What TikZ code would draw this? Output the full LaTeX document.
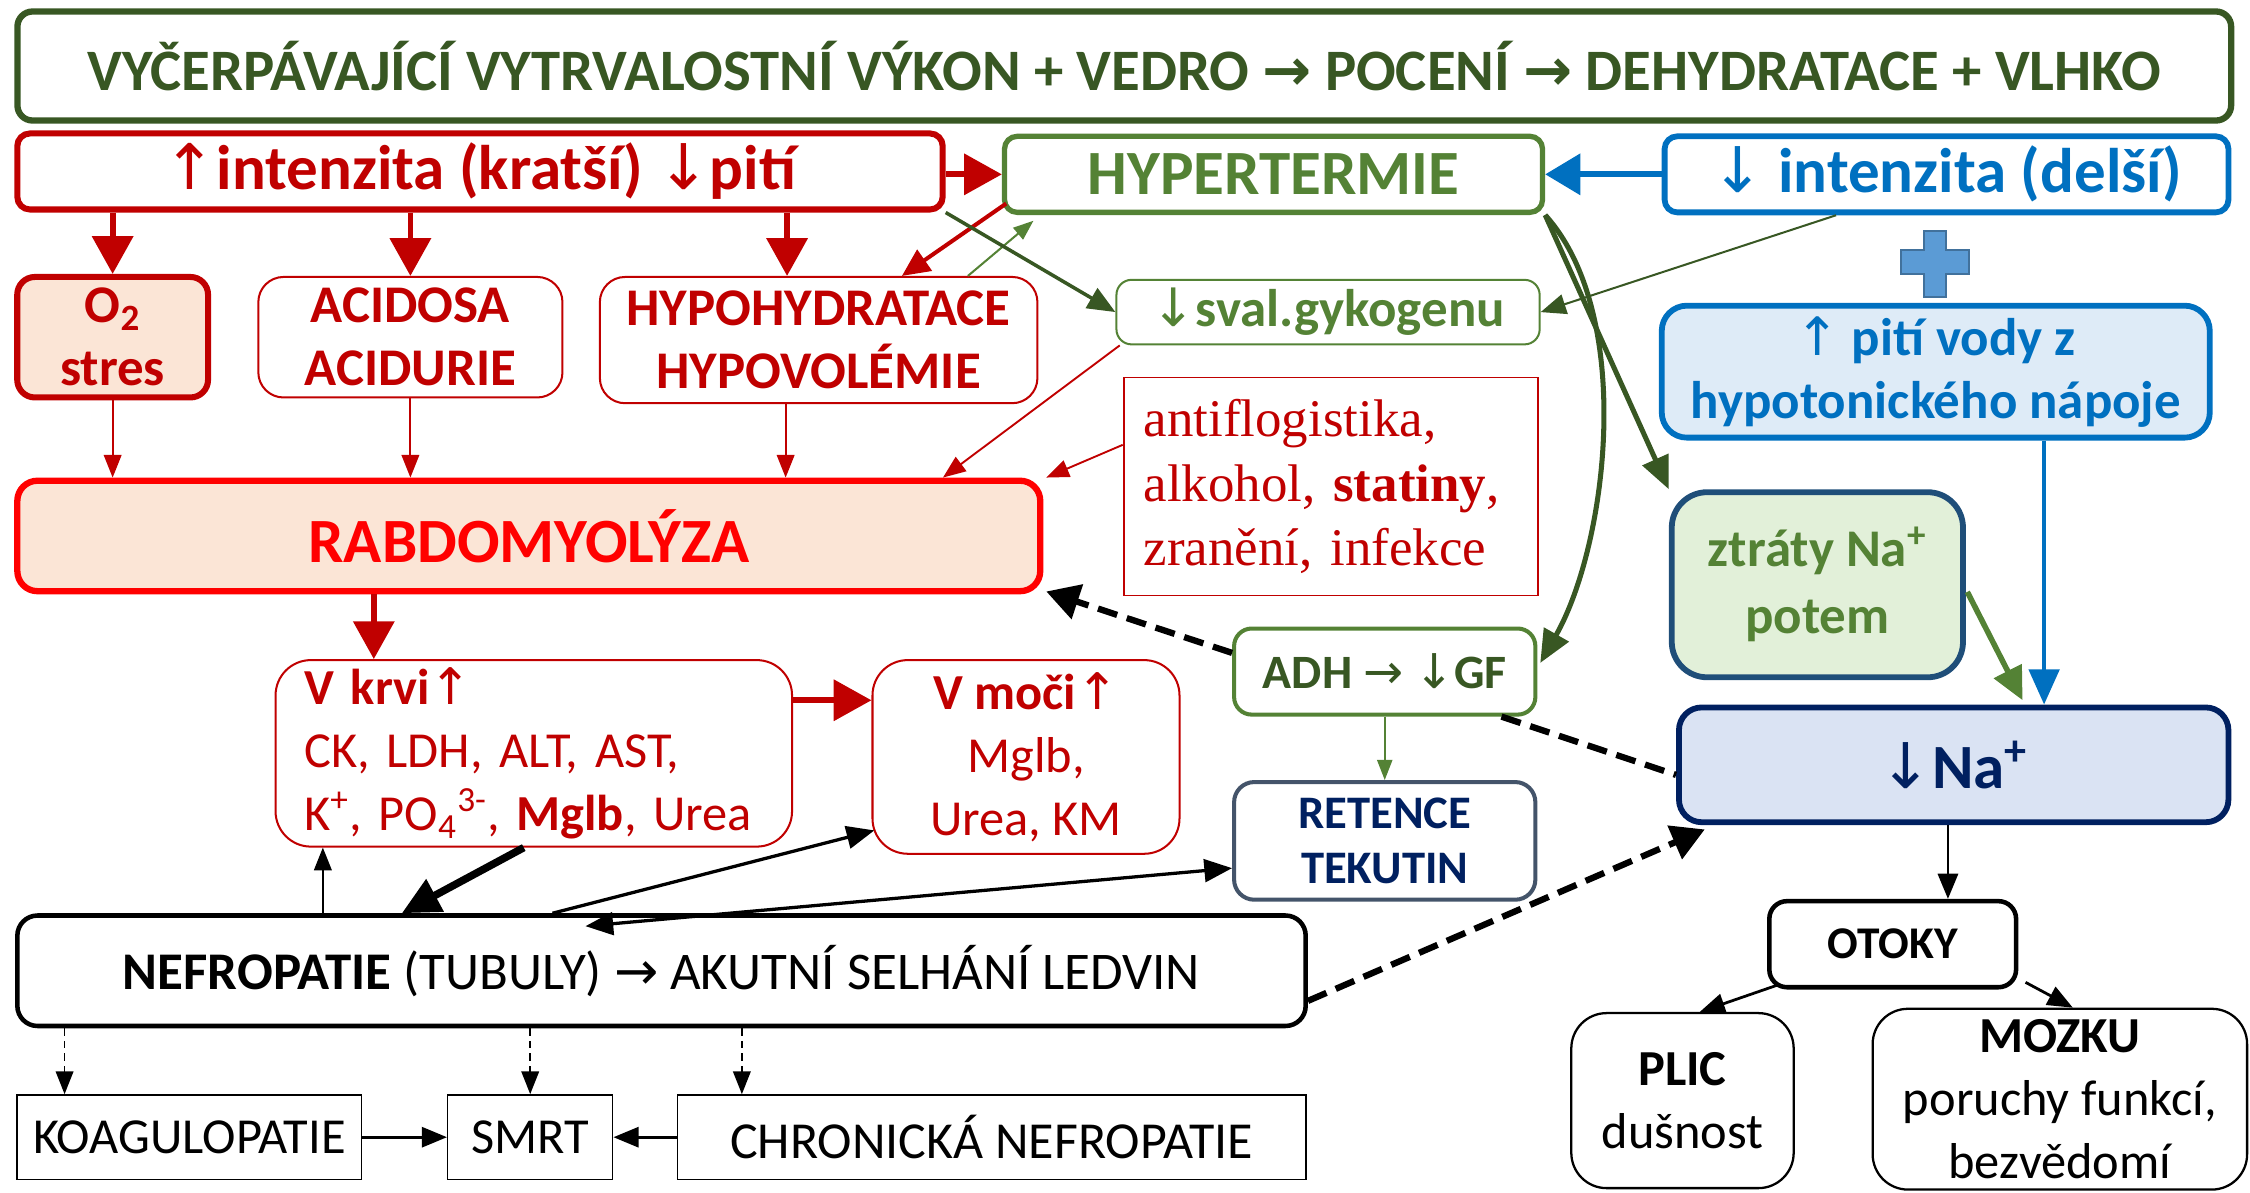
\documentclass[tikz,border=0pt]{standalone}
\usepackage{fontspec}
\setmainfont{Carlito}
\newfontfamily\serfont{Liberation Serif}
\newfontfamily\arrfont{DejaVu Sans}
\usetikzlibrary{arrows.meta,calc}

\definecolor{dgreen}{HTML}{385723}
\definecolor{mgreen}{HTML}{548235}
\definecolor{dred}{HTML}{C00000}
\definecolor{bred}{HTML}{FF0000}
\definecolor{peach}{HTML}{FBE5D6}
\definecolor{mblue}{HTML}{0070C0}
\definecolor{pblue}{HTML}{DEEBF7}
\definecolor{plusblue}{HTML}{5B9BD5}
\definecolor{plusedge}{HTML}{41719C}
\definecolor{pgreen}{HTML}{E2F0D9}
\definecolor{steel}{HTML}{1F4E79}
\definecolor{navy}{HTML}{002060}
\definecolor{lav}{HTML}{DAE3F3}
\definecolor{slate}{HTML}{44546A}

\newcommand{\arup}{{\arrfont\mdseries ↑}}
\newcommand{\ardn}{{\arrfont\mdseries ↓}}
\newcommand{\arri}{{\arrfont\mdseries →}}

\begin{document}
\begin{tikzpicture}[x=0.02cm, y=-0.02cm,
    rbox/.style={draw, rounded corners=7pt, align=center, inner sep=0pt},
    sbox/.style={draw, align=center, inner sep=0pt},
    big/.style={font=\fontsize{25}{29}\selectfont\bfseries},
    mid/.style={font=\fontsize{21}{25}\selectfont\bfseries},
    plain/.style={font=\fontsize{20}{25}\selectfont},
    redfat/.style={dred, line width=2.3pt, -{Triangle[length=15pt,width=16pt]}},
    redmid/.style={dred, line width=1.6pt, -{Triangle[length=11pt,width=10pt]}},
    redthin/.style={dred, line width=0.75pt, -{Triangle[length=9pt,width=7pt]}},
    grnthin/.style={mgreen, line width=0.8pt, -{Triangle[length=8pt,width=6pt]}},
    grnmid/.style={mgreen, line width=2.2pt, -{Triangle[length=13pt,width=12pt]}},
    dgrnthin/.style={dgreen, line width=0.8pt, -{Triangle[length=10pt,width=8pt]}},
    dgrnmid/.style={dgreen, line width=1.4pt, -{Triangle[length=11pt,width=9pt]}},
    dgrnfat/.style={dgreen, line width=2pt, -{Triangle[length=13pt,width=11pt]}},
    bluefat/.style={mblue, line width=2.5pt, -{Triangle[length=14pt,width=16pt]}},
    bluemid/.style={mblue, line width=1.8pt, -{Triangle[length=14pt,width=12pt]}},
    blk/.style={black, line width=1.1pt, -{Triangle[length=10pt,width=8pt]}},
    blkthin/.style={black, line width=0.7pt, -{Triangle[length=9pt,width=7pt]}},
    blkmid/.style={black, line width=1.3pt, -{Triangle[length=11pt,width=9pt]}},
    blkfat/.style={black, line width=3pt, -{Triangle[length=15pt,width=14pt]}},
    dashfat/.style={black, line width=2.5pt, dash pattern=on 8pt off 4pt, -{Triangle[length=13pt,width=14pt]}},
    dashline/.style={black, line width=2.5pt, dash pattern=on 8pt off 4pt},
    dashthin/.style={black, line width=0.6pt, dash pattern=on 3pt off 2pt, -{Triangle[length=9pt,width=7pt]}}]
  \useasboundingbox (0,0) rectangle (1568,831);

  % top row
  \node[rbox, draw=dgreen, line width=2.5pt, rounded corners=6pt, minimum width=30.86cm, minimum height=1.52cm,
        text=dgreen, font=\fontsize{23.3}{27}\selectfont\bfseries] (top) at (783.5,46)
        {VYČERPÁVAJÍCÍ VYTRVALOSTNÍ VÝKON + VEDRO {\arrfont →} POCENÍ {\arrfont →} DEHYDRATACE + VLHKO};
  \node[rbox, big, draw=dred, line width=2.4pt, rounded corners=5pt, minimum width=12.9cm, minimum height=1.06cm, text=dred]
        (kratsi) at (334.5,119.5) {\arup{}intenzita (kratší) \ardn{}pití};
  \node[rbox, big, draw=mgreen, line width=2.1pt, rounded corners=5pt, minimum width=7.5cm, minimum height=1.06cm, text=mgreen]
        (hyper) at (887.5,121.5) {HYPERTERMIE};
  \node[rbox, big, draw=mblue, line width=2.3pt, rounded corners=5pt, minimum width=7.86cm, minimum height=1.06cm, text=mblue]
        (delsi) at (1356.5,121.5) {\ardn{} intenzita (delší)};

  % second row
  \node[rbox, mid, draw=dred, fill=peach, line width=2.4pt, minimum width=2.66cm, minimum height=1.68cm, text=dred]
        (o2) at (78.5,235) {O\textsubscript{2}\\stres};
  \node[rbox, mid, draw=dred, line width=0.8pt, rounded corners=10pt, minimum width=4.24cm, minimum height=1.68cm, text=dred]
        (acid) at (286,235) {ACIDOSA\\ACIDURIE};
  \node[rbox, mid, draw=dred, line width=0.8pt, rounded corners=10pt, minimum width=6.1cm, minimum height=1.76cm, text=dred]
        (hypo) at (570.5,237) {HYPOHYDRATACE\\HYPOVOLÉMIE};
  \node[rbox, mid, draw=mgreen, line width=0.8pt, rounded corners=6pt, minimum width=5.9cm, minimum height=0.9cm, text=mgreen]
        (sval) at (925.5,217.5) {\ardn{}sval.gykogenu};
  \node[sbox, draw=dred, line width=0.7pt, minimum width=5.78cm, minimum height=3.04cm, text width=5.22cm, align=left,
        text=dred, font=\serfont\fontsize{21}{25.5}\selectfont] (anti) at (927.5,339)
        {antiflogistika,\\alkohol, \textbf{statiny},\\zranění, infekce};
  \node[rbox, mid, draw=mblue, fill=pblue, line width=2.3pt, rounded corners=10pt, minimum width=7.64cm, minimum height=1.84cm,
        text=mblue] (piti) at (1349,259) {\arup{} pití vody z\\hypotonického nápoje};
  \filldraw[fill=plusblue, draw=plusedge, line width=0.8pt]
    (1341,161) -- (1356,161) -- (1356,174) -- (1372,174) -- (1372,191) -- (1356,191) -- (1356,207)
    -- (1341,207) -- (1341,191) -- (1325,191) -- (1325,174) -- (1341,174) -- cycle;

  % middle
  \node[rbox, big, draw=bred, fill=peach, line width=2.5pt, rounded corners=8pt, minimum width=14.26cm, minimum height=1.54cm,
        text=bred] (rabdo) at (368.5,373.5) {RABDOMYOLÝZA};
  \node[rbox, mid, draw=steel, fill=pgreen, line width=2.3pt, rounded corners=14pt, minimum width=4.06cm, minimum height=2.58cm,
        text=mgreen, font=\fontsize{21}{26.5}\selectfont\bfseries] (ztraty) at (1266.5,407.5) {ztráty Na\textsuperscript{+}\\potem};
  \node[rbox, draw=mgreen, line width=1.6pt, minimum width=4.2cm, minimum height=1.2cm, text=dgreen,
        font=\fontsize{19}{22}\selectfont\bfseries] (adh) at (965,468) {ADH \arri{} \ardn{}GF};
  \node[rbox, big, draw=navy, fill=lav, line width=2.3pt, rounded corners=9pt, minimum width=7.66cm, minimum height=1.6cm,
        text=navy] (na) at (1361.5,533) {\ardn{}Na\textsuperscript{+}};
  \node[rbox, plain, draw=dred, line width=0.8pt, rounded corners=14pt, minimum width=7.2cm, minimum height=2.6cm,
        text width=6.4cm, align=left, text=dred] (krvi) at (372,525)
        {\textbf{V krvi\arup}\\CK, LDH, ALT, AST,\\K\textsuperscript{+}, PO\textsubscript{4}\textsuperscript{3-}, \textbf{Mglb}, Urea};
  \node[rbox, plain, draw=dred, line width=0.8pt, rounded corners=14pt, minimum width=4.28cm, minimum height=2.7cm, text=dred]
        (moci) at (715,527.5) {\textbf{V moči\arup}\\Mglb,\\Urea, KM};
  \node[rbox, draw=slate, line width=1.6pt, rounded corners=8pt, minimum width=4.2cm, minimum height=1.64cm, text=navy,
        font=\fontsize{18.5}{22}\selectfont\bfseries] (ret) at (965,586) {RETENCE\\TEKUTIN};

  % bottom
  \node[rbox, draw=black, line width=1.8pt, rounded corners=8pt, minimum width=17.96cm, minimum height=1.54cm,
        font=\fontsize{21}{25}\selectfont] (nefro) at (461,676.5)
        {\textbf{NEFROPATIE} (TUBULY) \arri{} AKUTNÍ SELHÁNÍ LEDVIN};
  \node[rbox, draw=black, line width=1.8pt, minimum width=3.44cm, minimum height=1.2cm,
        font=\fontsize{18}{22}\selectfont\bfseries] (otoky) at (1319,658) {OTOKY};
  \node[rbox, plain, draw=black, line width=0.9pt, rounded corners=14pt, minimum width=3.1cm, minimum height=2.44cm]
        (plic) at (1172.5,767) {\textbf{PLIC}\\dušnost};
  \node[rbox, plain, draw=black, line width=0.9pt, rounded corners=14pt, minimum width=5.22cm, minimum height=2.52cm]
        (mozku) at (1435.5,766) {\textbf{MOZKU}\\poruchy funkcí,\\bezvědomí};
  \node[sbox, plain, draw=black, line width=0.6pt, minimum width=4.8cm, minimum height=1.18cm] (koag) at (132,792.5) {KOAGULOPATIE};
  \node[sbox, plain, draw=black, line width=0.6pt, minimum width=2.3cm, minimum height=1.18cm] (smrt) at (369.5,792.5) {SMRT};
  \node[sbox, draw=black, line width=0.6pt, minimum width=8.76cm, minimum height=1.18cm,
        font=\fontsize{20.6}{25}\selectfont] (chron) at (691,792.5) {CHRONICKÁ NEFROPATIE};

  % arrows, top part
  \draw[redfat] (kratsi.east |- hyper.west) -- (hyper.west);
  \draw[bluefat] (delsi.west) -- (hyper.east);
  \draw[redfat] (kratsi.south -| o2.north) -- (o2.north);
  \draw[redfat] (kratsi.south -| acid.north) -- (acid.north);
  \coordinate (hypoin) at ($(hypo.north)+(-22,0)$);
  \draw[redfat] (kratsi.south -| hypoin) -- (hypoin);
  \draw[redmid] ($(hyper.south west)+(3,-8)$) -- ($(hypo.north)+(58,0)$);
  \draw[grnthin] ($(hypo.north)+(104,0)$) -- ($(hyper.south west)+(22,4)$);
  \draw[dgrnmid] (kratsi.south east) -- (sval.west);
  \draw[dgrnthin] ($(delsi.south)+(-77,0)$) -- (sval.east);

  % into rabdomyolyza
  \draw[redthin] (o2.south) -- (o2.south |- rabdo.north);
  \draw[redthin] (acid.south) -- (acid.south |- rabdo.north);
  \coordinate (hypoout) at ($(hypo.south)+(-23,0)$);
  \draw[redthin] (hypoout) -- (hypoout |- rabdo.north);
  \draw[redthin] ($(sval.south west)+(3,0)$) -- ($(rabdo.north east)+(-70,0)$);
  \draw[redthin] ($(anti.west)+(0,-29)$) -- ($(rabdo.north east)+(2,0)$);

  % hypertermie down
  \draw[dgrnfat] (hyper.south east) -- (ztraty.north west);
  \draw[dgrnfat] (hyper.south east) .. controls (1140,220) and (1120,380) .. ($(adh.east)+(2,-6)$);
  \draw[dashfat] ($(adh.west)+(0,-13)$) -- ($(rabdo.south east)+(2,-2)$);
  \draw[dashline] ($(adh.south east)+(-25,0)$) -- ($(na.west)+(0,7)$);
  \draw[grnthin] (adh.south) -- (ret.north);

  % sodium
  \coordinate (napiti) at ($(na.north)+(63,0)$);
  \draw[bluemid] (napiti |- piti.south) -- (napiti);
  \draw[grnmid] ($(ztraty.east)+(1,5)$) -- ($(na.north)+(48,-3)$);
  \coordinate (naout) at ($(na.south)+(-4,0)$);
  \draw[blk] (naout) -- (naout |- otoky.north);
  \draw[blk] ($(otoky.south west)+(7,-3)$) -- ($(plic.north)+(12,0)$);
  \draw[blk] ($(otoky.south east)+(5,-5)$) -- ($(mozku.north)+(9,0)$);

  % blood, urine, kidney
  \coordinate (rabout) at ($(rabdo.south)+(-108,0)$);
  \draw[redfat] (rabout) -- (rabout |- krvi.north);
  \coordinate (krviout) at ($(krvi.east)+(0,-37)$);
  \draw[redfat] (krviout) -- (krviout -| moci.west);
  \coordinate (krviin) at ($(krvi.south)+(-147,0)$);
  \draw[blkthin] (krviin |- nefro.north) -- (krviin);
  \draw[blkfat] ($(krvi.south)+(-7,0)$) -- ($(nefro.north)+(-181,0)$);
  \draw[blkmid] ($(nefro.north)+(-76,0)$) -- ($(moci.south west)+(2,-17)$);
  \draw[blkmid, {Triangle[length=11pt,width=9pt]}-{Triangle[length=11pt,width=9pt]}]
    ($(nefro.north)+(-53,9)$) -- ($(ret.west)+(0,19)$);
  \draw[dashfat] ($(nefro.east)+(0,21)$) -- ($(na.south west)+(20,3)$);
  \coordinate (koagin) at ($(koag.north)+(-87,0)$);
  \draw[dashthin] (koagin |- nefro.south) -- (koagin);
  \draw[dashthin] (smrt.north |- nefro.south) -- (smrt.north);
  \coordinate (chronin) at ($(chron.north)+(-174,0)$);
  \draw[dashthin] (chronin |- nefro.south) -- (chronin);
  \draw[blk] (koag.east) -- (smrt.west);
  \draw[blk] (chron.west) -- (smrt.east);
\end{tikzpicture}
\end{document}
